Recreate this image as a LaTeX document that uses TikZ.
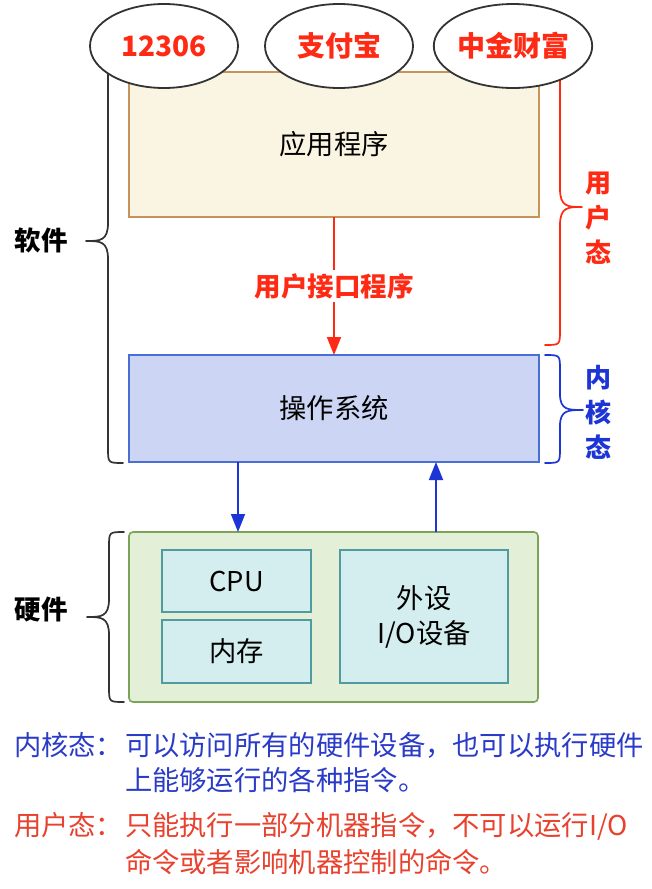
\documentclass[tikz,border=0pt]{standalone}
\usepackage{fontspec}
\setmainfont{Noto Sans CJK SC}
\usetikzlibrary{arrows.meta,shapes.geometric}
\definecolor{appfill}{HTML}{FAF5E3}
\definecolor{appline}{HTML}{C8935B}
\definecolor{osfill}{HTML}{CCD5F4}
\definecolor{osline}{HTML}{4A6ED3}
\definecolor{hwfill}{HTML}{E3EFD7}
\definecolor{hwline}{HTML}{7BA35A}
\definecolor{infill}{HTML}{D4EEEF}
\definecolor{inline}{HTML}{4F9BA0}
\definecolor{myred}{HTML}{FF2A14}
\definecolor{myblue}{HTML}{1E35D6}
\definecolor{txtblue}{HTML}{2A3BC8}
\definecolor{txtred}{HTML}{E8412E}
\definecolor{ellline}{HTML}{333333}
\begin{document}
\begin{tikzpicture}[x=1pt,y=1pt,
  every node/.style={inner sep=0pt,outer sep=0pt},
  box/.style={draw, line width=1.6pt, rectangle},
  ell/.style={draw=ellline, fill=white, ellipse, line width=1.8pt, minimum width=148pt, minimum height=84pt, font=\fontsize{28}{32}\selectfont\bfseries, text=myred},
  bracel/.style={line width=1.7pt, line cap=round, line join=round},
  lbl/.style={font=\fontsize{26.5}{30}\selectfont\bfseries},
  vlbl/.style={font=\fontsize{26}{35}\selectfont\bfseries, align=center},
  body/.style={font=\fontsize{27.3}{35}\selectfont},
  arr/.style={-{Triangle[length=18pt,width=14pt]}, line width=1.8pt}
]
\useasboundingbox (0,0) rectangle (652,-889);
\fill[white] (0,0) rectangle (652,-889);

% braces
\draw[bracel, draw=black!80] (123,-18) .. controls (108,-18) .. (108,-33) -- (108,-223) .. controls (108,-241) and (100,-241) .. (86,-241) .. controls (100,-241) and (108,-241) .. (108,-259) -- (108,-448) .. controls (108,-463) .. (123,-463);
\draw[bracel, draw=black!80] (124,-532) .. controls (109,-532) .. (109,-547) -- (109,-599) .. controls (109,-617) and (101,-617) .. (87,-617) .. controls (101,-617) and (109,-617) .. (109,-635) -- (109,-687) .. controls (109,-702) .. (124,-702);
\draw[bracel, draw=myred] (545,-69) .. controls (560,-69) .. (560,-84) -- (560,-189) .. controls (560,-207) and (568,-207) .. (582,-207) .. controls (568,-207) and (560,-207) .. (560,-225) -- (560,-330) .. controls (560,-345) .. (545,-345);
\draw[bracel, draw=myblue] (545,-355) .. controls (560,-355) .. (560,-370) -- (560,-394) .. controls (560,-410) and (568,-410) .. (583,-410) .. controls (568,-410) and (560,-410) .. (560,-426) -- (560,-448) .. controls (560,-463) .. (545,-463);

% boxes
\node[box, draw=appline, fill=appfill, minimum width=410pt, minimum height=145pt, anchor=north west, body] (app) at (129,-72) {应用程序};
\node[box, draw=osline, fill=osfill, minimum width=410pt, minimum height=107pt, anchor=north west, body] (os) at (129,-355) {操作系统};
\node[box, draw=hwline, fill=hwfill, rounded corners=4pt, minimum width=409pt, minimum height=170pt, anchor=north west] (hw) at (129,-532) {};
\node[box, draw=inline, fill=infill, minimum width=149pt, minimum height=62pt, anchor=north west, body] (cpu) at (162,-550) {CPU};
\node[box, draw=inline, fill=infill, minimum width=149pt, minimum height=63pt, anchor=north west, body] (mem) at (162,-620) {内存};
\node[box, draw=inline, fill=infill, minimum width=168pt, minimum height=133pt, anchor=north west, body, align=center] (io) at (340,-550) {外设\\I/O设备};

% arrows
\draw[arr, draw=myred] (app.south) -- (os.north) node[midway, fill=white, inner sep=3pt, lbl, text=myred] (uif) {用户接口程序};
\coordinate (d1) at (238,0);
\coordinate (d2) at (436,0);
\draw[arr, draw=myblue] (os.south -| d1) -- (hw.north -| d1);
\draw[arr, draw=myblue] (hw.north -| d2) -- (os.south -| d2);

% ellipses
\node[ell] (e1) at (164,-46) {12306};
\node[ell] (e2) at (339,-46) {支付宝};
\node[ell] (e3) at (513,-46) {中金财富};

% side labels
\node[lbl] (sw) at (41,-240) {软件};
\node[lbl] (hwl) at (41,-610) {硬件};
\node[vlbl, text=myred] (um) at (598,-218) {用\\户\\态};
\node[vlbl, text=myblue] (km) at (598,-412) {内\\核\\态};

% bottom text
\node[body, text=txtblue, anchor=base west] (k1) at (14,-755) {内核态：};
\node[body, text=txtblue, anchor=base west] (k2) at (125,-755) {可以访问所有的硬件设备，也可以执行硬件};
\node[body, text=txtblue, anchor=base west] (k3) at (125,-790) {上能够运行的各种指令。};
\node[body, text=txtred, anchor=base west] (u1) at (14,-835) {用户态：};
\node[body, text=txtred, anchor=base west] (u2) at (125,-835) {只能执行一部分机器指令，不可以运行I/O};
\node[body, text=txtred, anchor=base west] (u3) at (125,-872) {命令或者影响机器控制的命令。};
\end{tikzpicture}
\end{document}
